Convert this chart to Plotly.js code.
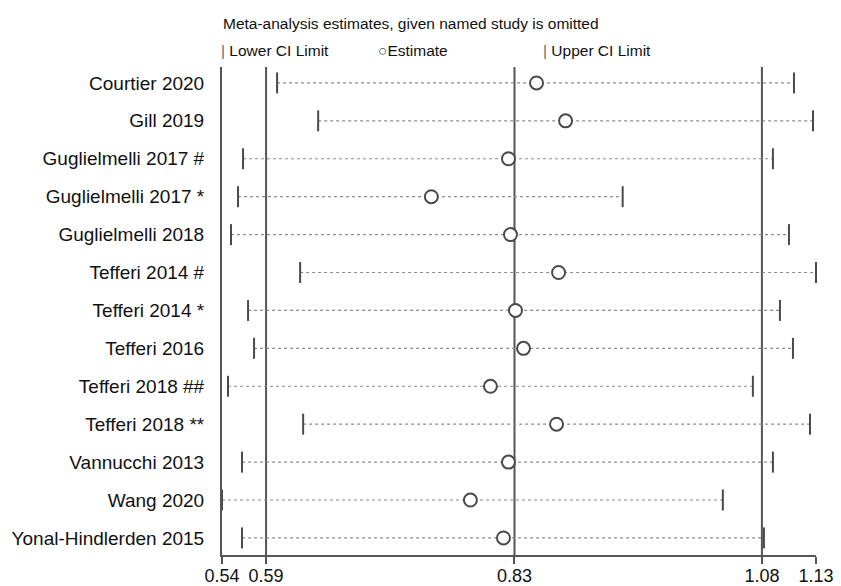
<!DOCTYPE html>
<html>
<head>
<meta charset="utf-8">
<script src="https://cdn.plot.ly/plotly-3.0.1.min.js"></script>
<style>html,body{margin:0;padding:0;background:#fff;}</style>
</head>
<body>
<div id="chart" style="width:841px;height:586px;"></div>
<script>
// ---- data ----
const studies = [
  "Courtier 2020", "Gill 2019", "Guglielmelli 2017 #", "Guglielmelli 2017 *",
  "Guglielmelli 2018", "Tefferi 2014 #", "Tefferi 2014 *", "Tefferi 2016",
  "Tefferi 2018 ##", "Tefferi 2018 **", "Vannucchi 2013", "Wang 2020",
  "Yonal-Hindlerden 2015"
];
const lowerCI  = [0.596, 0.637, 0.562, 0.557, 0.550, 0.619, 0.567, 0.573, 0.547, 0.622, 0.561, 0.541, 0.561];
const estimate = [0.855, 0.884, 0.827, 0.750, 0.829, 0.877, 0.834, 0.842, 0.809, 0.875, 0.827, 0.789, 0.822];
const upperCI  = [1.112, 1.131, 1.091, 0.941, 1.107, 1.134, 1.098, 1.111, 1.071, 1.128, 1.091, 1.041, 1.082];

const overallLower = 0.585;
const overallEstimate = 0.833;
const overallUpper = 1.080;

const tickVals = [0.541, 0.585, 0.833, 1.080, 1.134];
const tickText = ["0.54", "0.59", "0.83", "1.08", "1.13"];

const titleText = "Meta-analysis estimates, given named study is omitted";
const legendLower = "Lower CI Limit";
const legendEst = "Estimate";
const legendUpper = "Upper CI Limit";

// ---- build traces ----
const segX = [], segY = [];
studies.forEach((s, i) => { segX.push(lowerCI[i], upperCI[i], null); segY.push(s, s, null); });

const dark = "#4a4a4a";
const traces = [
  { type: "scatter", mode: "lines", x: segX, y: segY, hoverinfo: "skip",
    line: { color: "#8c8c8c", width: 1.2, dash: "dot" }, showlegend: false, cliponaxis: false },
  { type: "scatter", mode: "markers", x: lowerCI, y: studies, name: legendLower,
    marker: { symbol: "line-ns", size: 15, line: { color: dark, width: 2 } }, cliponaxis: false },
  { type: "scatter", mode: "markers", x: upperCI, y: studies, name: legendUpper,
    marker: { symbol: "line-ns", size: 15, line: { color: dark, width: 2 } }, cliponaxis: false },
  { type: "scatter", mode: "markers", x: estimate, y: studies, name: legendEst,
    marker: { symbol: "circle", size: 13, color: "#ffffff", line: { color: dark, width: 2 } }, cliponaxis: false }
];

const vline = (v) => ({ type: "line", xref: "x", yref: "paper", x0: v, x1: v, y0: 0, y1: 1,
  layer: "below", line: { color: "#555", width: 2 } });

const font = "Liberation Sans, Arial, sans-serif";
const txt = "#111";
const layout = {
  width: 841, height: 586,
  margin: { l: 222, r: 25, t: 67, b: 31 },
  paper_bgcolor: "#fff", plot_bgcolor: "#fff",
  showlegend: false,
  font: { family: font, color: txt },
  xaxis: {
    range: [tickVals[0], tickVals[tickVals.length - 1]], autorange: false,
    tickmode: "array", tickvals: tickVals, ticktext: tickText,
    ticks: "outside", ticklen: 7, tickwidth: 2, tickcolor: "#555",
    ticklabelstandoff: -4,
    showline: true, linecolor: "#555", linewidth: 2,
    showgrid: false, zeroline: false, tickfont: { size: 18, family: font, color: txt }
  },
  yaxis: {
    type: "category", categoryorder: "array", categoryarray: studies,
    range: [studies.length - 1 + 0.45, -0.42], autorange: false,
    showline: true, linecolor: "#555", linewidth: 2,
    ticks: "", ticklabelstandoff: 12,
    showgrid: false, zeroline: false, tickfont: { size: 19, family: font, color: txt }
  },
  shapes: [vline(overallLower), vline(overallEstimate), vline(overallUpper)],
  annotations: [
    { xref: "paper", yref: "paper", x: 0, y: 1, xanchor: "left", yanchor: "middle",
      yshift: 44, xshift: -1, showarrow: false, text: titleText, font: { size: 15.5, family: font, color: txt } },
    { xref: "paper", yref: "paper", x: 0, y: 1, xanchor: "left", yanchor: "middle",
      yshift: 17, xshift: -3, showarrow: false,
      text: "<span style='color:#666666'>|</span> " + legendLower, font: { size: 15.5, family: font, color: txt } },
    { xref: "paper", yref: "paper", x: (376 - 222) / 594, y: 1, xanchor: "left", yanchor: "middle",
      yshift: 17, showarrow: false,
      text: "<span style='color:#444444'>○</span>" + legendEst, font: { size: 15.5, family: font, color: txt } },
    { xref: "paper", yref: "paper", x: (541 - 222) / 594, y: 1, xanchor: "left", yanchor: "middle",
      yshift: 17, showarrow: false,
      text: "<span style='color:#666666'>|</span> " + legendUpper, font: { size: 15.5, family: font, color: txt } }
  ]
};

Plotly.newPlot("chart", traces, layout, { displayModeBar: false, staticPlot: true });
</script>
</body>
</html>
